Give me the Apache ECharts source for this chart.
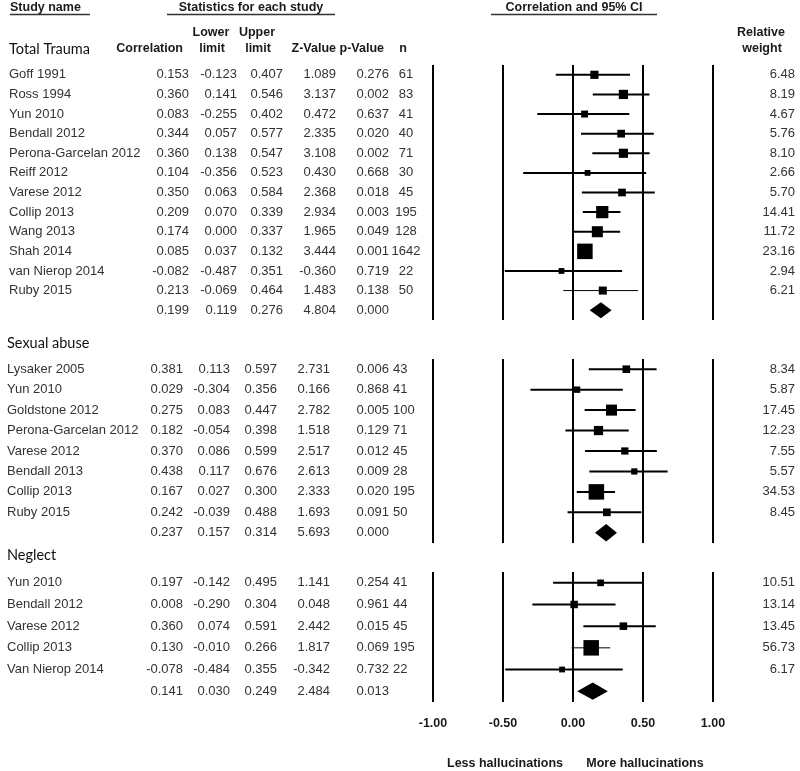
<!DOCTYPE html>
<html>
<head>
<meta charset="utf-8">
<script src="https://cdn.jsdelivr.net/npm/echarts@6/dist/echarts.min.js"></script>
<style>html,body{margin:0;padding:0;background:#fff;}#c{width:800px;height:771px;}</style>
</head>
<body>
<div id="c"></div>
<script>
// ---------- DATA ----------
const xTicks = ['-1.00', '-0.50', '0.00', '0.50', '1.00'];
const sectionTitles = ['Total Trauma', 'Sexual abuse', 'Neglect'];

const ttNames = ['Goff 1991', 'Ross 1994', 'Yun 2010', 'Bendall 2012', 'Perona-Garcelan 2012', 'Reiff 2012', 'Varese 2012', 'Collip 2013', 'Wang 2013', 'Shah 2014', 'van Nierop 2014', 'Ruby 2015'];
const ttCorr = [0.153, 0.360, 0.083, 0.344, 0.360, 0.104, 0.350, 0.209, 0.174, 0.085, -0.082, 0.213];
const ttLower = [-0.123, 0.141, -0.255, 0.057, 0.138, -0.356, 0.063, 0.070, 0.000, 0.037, -0.487, -0.069];
const ttUpper = [0.407, 0.546, 0.402, 0.577, 0.547, 0.523, 0.584, 0.339, 0.337, 0.132, 0.351, 0.464];
const ttZ = [1.089, 3.137, 0.472, 2.335, 3.108, 0.430, 2.368, 2.934, 1.965, 3.444, -0.360, 1.483];
const ttP = [0.276, 0.002, 0.637, 0.020, 0.002, 0.668, 0.018, 0.003, 0.049, 0.001, 0.719, 0.138];
const ttN = [61, 83, 41, 40, 71, 30, 45, 195, 128, 1642, 22, 50];
const ttWeight = [6.48, 8.19, 4.67, 5.76, 8.10, 2.66, 5.70, 14.41, 11.72, 23.16, 2.94, 6.21];
const ttSummary = [0.199, 0.119, 0.276, 4.804, 0.000]; // corr, lower, upper, z, p

const saNames = ['Lysaker 2005', 'Yun 2010', 'Goldstone 2012', 'Perona-Garcelan 2012', 'Varese 2012', 'Bendall 2013', 'Collip 2013', 'Ruby 2015'];
const saCorr = [0.381, 0.029, 0.275, 0.182, 0.370, 0.438, 0.167, 0.242];
const saLower = [0.113, -0.304, 0.083, -0.054, 0.086, 0.117, 0.027, -0.039];
const saUpper = [0.597, 0.356, 0.447, 0.398, 0.599, 0.676, 0.300, 0.488];
const saZ = [2.731, 0.166, 2.782, 1.518, 2.517, 2.613, 2.333, 1.693];
const saP = [0.006, 0.868, 0.005, 0.129, 0.012, 0.009, 0.020, 0.091];
const saN = [43, 41, 100, 71, 45, 28, 195, 50];
const saWeight = [8.34, 5.87, 17.45, 12.23, 7.55, 5.57, 34.53, 8.45];
const saSummary = [0.237, 0.157, 0.314, 5.693, 0.000];

const neNames = ['Yun 2010', 'Bendall 2012', 'Varese 2012', 'Collip 2013', 'Van Nierop 2014'];
const neCorr = [0.197, 0.008, 0.360, 0.130, -0.078];
const neLower = [-0.142, -0.290, 0.074, -0.010, -0.484];
const neUpper = [0.495, 0.304, 0.591, 0.266, 0.355];
const neZ = [1.141, 0.048, 2.442, 1.817, -0.342];
const neP = [0.254, 0.961, 0.015, 0.069, 0.732];
const neN = [41, 44, 45, 195, 22];
const neWeight = [10.51, 13.14, 13.45, 56.73, 6.17];
const neSummary = [0.141, 0.030, 0.249, 2.484, 0.013];

// ---------- LAYOUT / STYLE ----------
const sections = [
  {names: ttNames, corr: ttCorr, lower: ttLower, upper: ttUpper, z: ttZ, p: ttP, n: ttN, w: ttWeight, sum: ttSummary},
  {names: saNames, corr: saCorr, lower: saLower, upper: saUpper, z: saZ, p: saP, n: saN, w: saWeight, sum: saSummary},
  {names: neNames, corr: neCorr, lower: neLower, upper: neUpper, z: neZ, p: neP, n: neN, w: neWeight, sum: neSummary}
];
const gridLayout = [{top: 65, height: 255}, {top: 359, height: 184}, {top: 572, height: 130}];
const colX = [
  {name: 9, corr: 189, lower: 237, upper: 283, z: 336, p: 389, n: 406, nAlign: 'center', w: 795},
  {name: 7, corr: 183, lower: 230, upper: 277, z: 330, p: 389, n: 393, nAlign: 'left', w: 795},
  {name: 7, corr: 183, lower: 230, upper: 277, z: 330, p: 389, n: 393, nAlign: 'left', w: 795}
];
const titleY = [49, 343, 555];
const diamondHalf = [8, 8.7, 8.7];
const thinLines = [[11], [], [3]];

const F = '"Liberation Sans", Arial, sans-serif';
const TXT = '#333';
const HDR = '#1a1a1a';

const chart = echarts.init(document.getElementById('c'), null, {renderer: 'canvas'});

const grids = [], xAxes = [], yAxes = [], series = [];
sections.forEach((s, si) => {
  const nRows = s.names.length + 1;
  grids.push({left: 433, width: 280, top: gridLayout[si].top, height: gridLayout[si].height, containLabel: false});
  xAxes.push({
    type: 'value', gridIndex: si, min: -1, max: 1, interval: 0.5,
    axisLine: {show: false}, axisTick: {show: false},
    axisLabel: {show: si === 2, margin: 15, fontFamily: F, fontSize: 12.5, fontWeight: 'bold', color: HDR,
      formatter: v => xTicks[Math.round((v + 1) / 0.5)]},
    splitLine: {show: true, lineStyle: {color: '#000', width: 2}}
  });
  yAxes.push({
    type: 'value', gridIndex: si, min: -0.5, max: nRows - 0.5, inverse: true,
    axisLine: {show: false}, axisTick: {show: false}, axisLabel: {show: false}, splitLine: {show: false}
  });
  const maxW = Math.max.apply(null, s.w);
  // forest marks
  const markData = s.corr.map((c, i) => [c, i, s.lower[i], s.upper[i], s.w[i], 0, i]);
  markData.push([s.sum[0], s.names.length, s.sum[1], s.sum[2], 0, 1, -1]);
  series.push({
    type: 'custom', xAxisIndex: si, yAxisIndex: si, clip: false, silent: true,
    encode: {x: 0, y: 1},
    data: markData,
    renderItem: (params, api) => {
      const r = api.value(0), row = api.value(1), lo = api.value(2), hi = api.value(3), w = api.value(4), summ = api.value(5), idx = api.value(6);
      const c = api.coord([r, row]), pl = api.coord([lo, row]), ph = api.coord([hi, row]);
      if (summ) {
        const h = diamondHalf[si];
        return {type: 'polygon', shape: {points: [[pl[0], c[1]], [c[0], c[1] - h], [ph[0], c[1]], [c[0], c[1] + h]]}, style: {fill: '#000'}};
      }
      const sz = Math.max(5.8, 15.5 * Math.sqrt(w / maxW));
      const lw = thinLines[si].indexOf(idx) >= 0 ? 1 : 2;
      return {type: 'group', children: [
        {type: 'line', shape: {x1: pl[0], y1: c[1], x2: ph[0], y2: c[1]}, style: {stroke: '#000', lineWidth: lw}},
        {type: 'rect', shape: {x: c[0] - sz / 2, y: c[1] - sz / 2, width: sz, height: sz}, style: {fill: '#000'}}
      ]};
    }
  });
  // text columns
  const textData = s.names.map((nm, i) => [0, i, i]);
  textData.push([0, s.names.length, -1]);
  series.push({
    type: 'custom', xAxisIndex: si, yAxisIndex: si, clip: false, silent: true,
    encode: {x: 0, y: 1},
    data: textData,
    renderItem: (params, api) => {
      const row = api.value(1), idx = api.value(2);
      const y = api.coord([0, row])[1];
      const cx = colX[si];
      const t = (text, x, align) => ({type: 'text', style: {text: text, x: x, y: y, align: align, verticalAlign: 'middle', fontFamily: F, fontSize: 13, fill: TXT}});
      let vals;
      if (idx < 0) {
        vals = [s.sum[0], s.sum[1], s.sum[2], s.sum[3], s.sum[4]];
      } else {
        vals = [s.corr[idx], s.lower[idx], s.upper[idx], s.z[idx], s.p[idx]];
      }
      const ch = [
        t(vals[0].toFixed(3), cx.corr, 'right'),
        t(vals[1].toFixed(3), cx.lower, 'right'),
        t(vals[2].toFixed(3), cx.upper, 'right'),
        t(vals[3].toFixed(3), cx.z, 'right'),
        t(vals[4].toFixed(3), cx.p, 'right')
      ];
      if (idx >= 0) {
        ch.push(t(s.names[idx], cx.name, 'left'));
        ch.push(t(String(s.n[idx]), cx.n, cx.nAlign));
        ch.push(t(s.w[idx].toFixed(2), cx.w, 'right'));
      }
      return {type: 'group', children: ch};
    }
  });
});

const hdr = (text, x, y, align) => ({type: 'text', x: x, y: y, style: {text: text, align: align, verticalAlign: 'middle', fontFamily: F, fontSize: 12.5, fontWeight: 'bold', fill: HDR}});
const uline = (x1, x2) => ({type: 'line', shape: {x1: x1, y1: 14.5, x2: x2, y2: 14.5}, style: {stroke: '#333', lineWidth: 1.6}});
const graphic = [
  hdr('Study name', 10, 7.5, 'left'),
  hdr('Statistics for each study', 251, 7.5, 'center'),
  hdr('Correlation and 95% CI', 574, 7.5, 'center'),
  uline(10, 90), uline(167, 335), uline(491, 657),
  hdr('Correlation', 183, 49, 'right'),
  hdr('Lower', 211, 33, 'center'), hdr('limit', 212, 49, 'center'),
  hdr('Upper', 257, 33, 'center'), hdr('limit', 258, 49, 'center'),
  hdr('Z-Value', 336, 49, 'right'),
  hdr('p-Value', 384, 49, 'right'),
  hdr('n', 403, 49, 'center'),
  hdr('Relative', 761, 33, 'center'), hdr('weight', 762, 49, 'center'),
  hdr('Less hallucinations', 505, 764, 'center'),
  hdr('More hallucinations', 645, 764, 'center')
];
sectionTitles.forEach((tt, i) => {
  graphic.push({type: 'text', x: colX[i].name, y: titleY[i], style: {text: tt, align: 'left', verticalAlign: 'middle', fontFamily: 'Lato, "Open Sans", sans-serif', fontSize: 14.5, fill: '#111'}});
});

chart.setOption({
  animation: false,
  backgroundColor: '#fff',
  grid: grids, xAxis: xAxes, yAxis: yAxes, series: series,
  graphic: graphic
});
</script>
</body>
</html>
